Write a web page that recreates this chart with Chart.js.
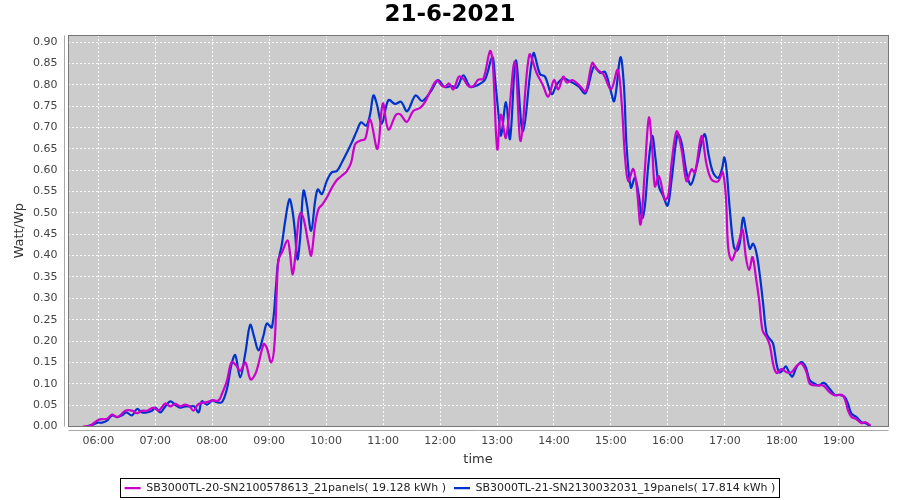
<!DOCTYPE html>
<html>
<head>
<meta charset="utf-8">
<script src="https://cdn.jsdelivr.net/npm/chart.js@4.4.0/dist/chart.umd.min.js"></script>
<style>
  html, body { margin: 0; padding: 0; background: #ffffff; }
  canvas { display: block; }
</style>
</head>
<body>
<canvas id="c" width="900" height="500" style="width:900px;height:500px"></canvas>
<script>
// ---- data (time in decimal hours, value in Watt/Wp) ----
const chartTitle = '21-6-2021';
const seriesNames = [
  'SB3000TL-20-SN2100578613_21panels( 19.128 kWh )',
  'SB3000TL-21-SN2130032031_19panels( 17.814 kWh )'
];

const sb20Time = [
  5.732,5.860,6.005,6.153,6.240,6.328,6.386,6.474,6.591,6.679,
  6.767,6.854,6.970,7.058,7.175,7.263,7.351,7.439,7.526,7.602,
  7.672,7.760,7.907,8.005,8.111,8.170,8.258,8.339,8.421,8.491,
  8.579,8.675,8.772,8.904,8.956,9.035,9.093,9.135,9.163,9.223,
  9.321,9.368,9.409,9.456,9.514,9.556,9.614,9.689,9.737,9.807,
  9.865,9.935,10.012,10.100,10.188,10.275,10.363,10.439,10.509,10.596,
  10.684,10.772,10.900,10.995,11.093,11.228,11.298,11.416,11.526,11.649,
  11.737,11.842,11.942,12.030,12.088,12.158,12.233,12.333,12.409,12.496,
  12.584,12.672,12.760,12.877,12.925,13.004,13.067,13.158,13.311,13.416,
  13.567,13.696,13.802,13.900,14.000,14.075,14.163,14.223,14.321,14.456,
  14.556,14.672,14.749,14.865,15.000,15.118,15.188,15.246,15.304,15.391,
  15.451,15.521,15.596,15.667,15.725,15.772,15.842,15.947,16.005,16.065,
  16.153,16.240,16.328,16.416,16.474,16.591,16.679,16.767,16.882,16.960,
  17.018,17.058,17.118,17.175,17.251,17.311,17.368,17.426,17.486,17.544,
  17.602,17.661,17.732,17.789,17.860,17.918,17.995,18.082,18.170,18.268,
  18.346,18.433,18.491,18.609,18.725,18.842,18.930,19.047,19.105,19.163,
  19.223,19.298,19.398,19.468,19.556
];
const sb20Value = [
  0.000,0.002,0.016,0.018,0.028,0.022,0.026,0.037,0.037,0.031,
  0.037,0.037,0.044,0.037,0.054,0.047,0.053,0.047,0.051,0.047,
  0.037,0.053,0.057,0.061,0.061,0.076,0.107,0.150,0.143,0.130,
  0.150,0.110,0.128,0.193,0.185,0.150,0.192,0.325,0.391,0.407,
  0.436,0.403,0.356,0.395,0.481,0.500,0.481,0.427,0.400,0.473,
  0.509,0.520,0.536,0.559,0.577,0.587,0.598,0.618,0.661,0.669,
  0.673,0.719,0.650,0.756,0.695,0.730,0.731,0.713,0.738,0.746,
  0.760,0.789,0.810,0.798,0.795,0.803,0.789,0.819,0.814,0.797,
  0.797,0.812,0.814,0.879,0.852,0.649,0.730,0.676,0.854,0.668,
  0.870,0.827,0.800,0.772,0.811,0.789,0.819,0.805,0.811,0.797,
  0.785,0.851,0.836,0.825,0.789,0.835,0.758,0.633,0.574,0.603,
  0.562,0.473,0.602,0.723,0.648,0.562,0.586,0.531,0.540,0.617,
  0.691,0.648,0.574,0.602,0.594,0.680,0.613,0.578,0.574,0.596,
  0.537,0.420,0.389,0.405,0.436,0.461,0.397,0.366,0.397,0.350,
  0.295,0.225,0.209,0.190,0.139,0.125,0.135,0.127,0.127,0.143,
  0.147,0.127,0.100,0.096,0.096,0.080,0.073,0.074,0.065,0.037,
  0.022,0.018,0.008,0.010,0.002
];

const sb21Time = [
  5.789,5.918,5.988,6.065,6.153,6.240,6.328,6.416,6.491,6.591,
  6.679,6.767,6.854,6.942,7.005,7.088,7.175,7.263,7.351,7.439,
  7.526,7.614,7.684,7.760,7.819,7.907,8.005,8.082,8.170,8.258,
  8.339,8.404,8.491,8.579,8.667,8.737,8.812,8.900,8.960,9.047,
  9.118,9.153,9.223,9.281,9.356,9.409,9.456,9.496,9.544,9.602,
  9.661,9.737,9.807,9.854,9.925,10.012,10.100,10.188,10.275,10.363,
  10.451,10.539,10.614,10.702,10.772,10.830,10.889,10.977,11.093,11.211,
  11.316,11.421,11.570,11.684,11.825,11.970,12.075,12.205,12.293,12.409,
  12.526,12.644,12.789,12.916,12.965,13.023,13.070,13.158,13.228,13.330,
  13.456,13.637,13.754,13.842,13.960,14.047,14.163,14.281,14.426,14.553,
  14.702,14.807,14.895,14.982,15.058,15.167,15.228,15.275,15.351,15.421,
  15.491,15.549,15.596,15.654,15.725,15.784,15.842,15.918,15.995,16.065,
  16.170,16.240,16.328,16.404,16.504,16.591,16.649,16.719,16.795,16.882,
  16.953,16.991,17.030,17.088,17.158,17.216,17.263,17.321,17.381,17.439,
  17.496,17.556,17.614,17.672,17.732,17.789,17.847,17.907,17.953,18.012,
  18.070,18.140,18.188,18.258,18.346,18.421,18.491,18.579,18.649,18.737,
  18.842,18.930,19.018,19.105,19.163,19.223,19.311,19.398,19.468,19.556
];
const sb21Value = [
  0.000,0.005,0.009,0.009,0.014,0.026,0.022,0.026,0.033,0.026,
  0.041,0.033,0.033,0.037,0.044,0.033,0.047,0.059,0.051,0.044,
  0.047,0.047,0.047,0.033,0.059,0.051,0.061,0.057,0.057,0.088,
  0.146,0.167,0.115,0.170,0.238,0.209,0.178,0.213,0.241,0.232,
  0.325,0.381,0.427,0.481,0.532,0.505,0.450,0.391,0.442,0.552,
  0.520,0.458,0.528,0.555,0.544,0.575,0.595,0.598,0.618,0.641,
  0.665,0.692,0.712,0.704,0.731,0.775,0.755,0.709,0.764,0.755,
  0.760,0.738,0.775,0.762,0.782,0.811,0.795,0.797,0.793,0.822,
  0.795,0.798,0.812,0.865,0.815,0.734,0.681,0.759,0.673,0.857,
  0.691,0.873,0.825,0.819,0.778,0.800,0.815,0.808,0.797,0.780,
  0.843,0.828,0.830,0.793,0.762,0.864,0.797,0.656,0.559,0.582,
  0.539,0.488,0.516,0.609,0.680,0.625,0.562,0.539,0.517,0.578,
  0.684,0.664,0.594,0.566,0.609,0.664,0.684,0.633,0.594,0.582,
  0.605,0.630,0.600,0.506,0.420,0.412,0.430,0.489,0.451,0.416,
  0.428,0.405,0.354,0.287,0.217,0.205,0.194,0.147,0.127,0.131,
  0.141,0.123,0.117,0.139,0.151,0.139,0.108,0.100,0.096,0.102,
  0.088,0.074,0.074,0.069,0.053,0.030,0.022,0.010,0.008,0.000
];

const xTickValues = [6,7,8,9,10,11,12,13,14,15,16,17,18,19];
const xTickLabels = ['06:00','07:00','08:00','09:00','10:00','11:00','12:00',
                     '13:00','14:00','15:00','16:00','17:00','18:00','19:00'];
const yTickValues = [0,0.05,0.10,0.15,0.20,0.25,0.30,0.35,0.40,0.45,0.50,0.55,0.60,0.65,0.70,0.75,0.80,0.85,0.90];
const xMin = 5.468, xMax = 19.864, yMin = 0, yMax = 0.9164;

// ---- styling ----
const FONT = "'DejaVu Sans', 'Liberation Sans', sans-serif";
const toPoints = (ts, vs) => ts.map((t, i) => ({ x: t, y: vs[i] }));

const plotFrame = {
  id: 'plotFrame',
  beforeDraw(chart) {
    const { ctx, chartArea: a } = chart;
    ctx.save();
    ctx.fillStyle = '#cccccc';
    ctx.fillRect(a.left, a.top, a.right - a.left, a.bottom - a.top);
    ctx.restore();
  },
  afterDraw(chart) {
    const { ctx, chartArea: a } = chart;
    ctx.save();
    ctx.lineWidth = 1;
    // plot outline
    ctx.strokeStyle = '#777777';
    const L = Math.floor(a.left) + 0.5, T = Math.floor(a.top) + 0.5;
    const R = Math.floor(a.right) + 0.5, B = Math.floor(a.bottom) + 0.5;
    ctx.strokeRect(L, T, R - L, B - T);
    // offset axis lines
    ctx.strokeStyle = '#a8a8a8';
    ctx.beginPath();
    ctx.moveTo(L - 4, T); ctx.lineTo(L - 4, B);
    ctx.moveTo(L, B + 4); ctx.lineTo(R, B + 4);
    ctx.stroke();
    // legend border
    const hb = chart.legend && chart.legend.legendHitBoxes;
    if (hb && hb.length) {
      let l = Infinity, r = -Infinity, t = Infinity, b = -Infinity;
      hb.forEach(h => { l = Math.min(l, h.left); r = Math.max(r, h.left + h.width); t = Math.min(t, h.top); b = Math.max(b, h.top + h.height); });
      ctx.strokeStyle = '#000000';
      ctx.strokeRect(Math.floor(l - 4) + 0.5, Math.floor(t - 4) + 0.5, Math.round(r - l + 8), Math.round(b - t + 7.5));
    }
    ctx.restore();
  }
};

new Chart(document.getElementById('c'), {
  type: 'line',
  data: {
    datasets: [
      { label: seriesNames[0], data: toPoints(sb20Time, sb20Value), borderColor: '#cc00cc', backgroundColor: '#cc00cc',
        borderWidth: 2.2, pointRadius: 0, tension: 0.35, fill: false },
      { label: seriesNames[1], data: toPoints(sb21Time, sb21Value), borderColor: '#0033cc', backgroundColor: '#0033cc',
        borderWidth: 2.2, pointRadius: 0, tension: 0.35, fill: false }
    ]
  },
  options: {
    responsive: false,
    animation: false,
    devicePixelRatio: 1,
    layout: { padding: { left: 0, right: 0, top: 0, bottom: -3.6 } },
    plugins: {
      title: { display: true, text: chartTitle, color: '#000000',
               font: { family: FONT, size: 23, weight: 'bold' }, padding: { top: 1.5, bottom: 5.9 } },
      legend: { position: 'bottom',
                labels: { font: { family: FONT, size: 11 }, color: '#222222', usePointStyle: true,
                          pointStyle: 'line', pointStyleWidth: 16, padding: 8 } },
      tooltip: { enabled: false }
    },
    scales: {
      x: {
        type: 'linear', min: xMin, max: xMax,
        afterBuildTicks: s => { s.ticks = xTickValues.map(v => ({ value: v })); },
        afterFit: s => { s.height = 48.1; },
        ticks: { callback: (v, i) => xTickLabels[i], autoSkip: false, maxRotation: 0,
                 font: { family: FONT, size: 11 }, color: '#444444', padding: 7.7 },
        grid: { color: 'rgba(255,255,255,0.9)', lineWidth: 1, drawTicks: false },
        border: { display: false, dash: [2, 2] },
        title: { display: true, text: 'time', color: '#333333',
                 font: { family: FONT, size: 13 }, padding: { top: 0, bottom: 6.8 } }
      },
      y: {
        min: yMin, max: yMax,
        afterBuildTicks: s => { s.ticks = yTickValues.map(v => ({ value: v })); },
        afterFit: s => { s.width = 68; },
        ticks: { callback: v => Number(v).toFixed(2), autoSkip: false,
                 font: { family: FONT, size: 11 }, color: '#444444', padding: 10.5 },
        grid: { color: 'rgba(255,255,255,0.9)', lineWidth: 1, drawTicks: false },
        border: { display: false, dash: [2, 2] },
        title: { display: true, text: 'Watt/Wp', color: '#333333',
                 font: { family: FONT, size: 13 }, padding: { top: 12.2, bottom: 0 } }
      },
      yRightMargin: {
        position: 'right', display: true, min: 0, max: 1,
        afterFit: s => { s.width = 12; },
        ticks: { display: false },
        grid: { display: false, drawTicks: false },
        border: { display: false },
        title: { display: false }
      }
    }
  },
  plugins: [plotFrame]
});
</script>
</body>
</html>
